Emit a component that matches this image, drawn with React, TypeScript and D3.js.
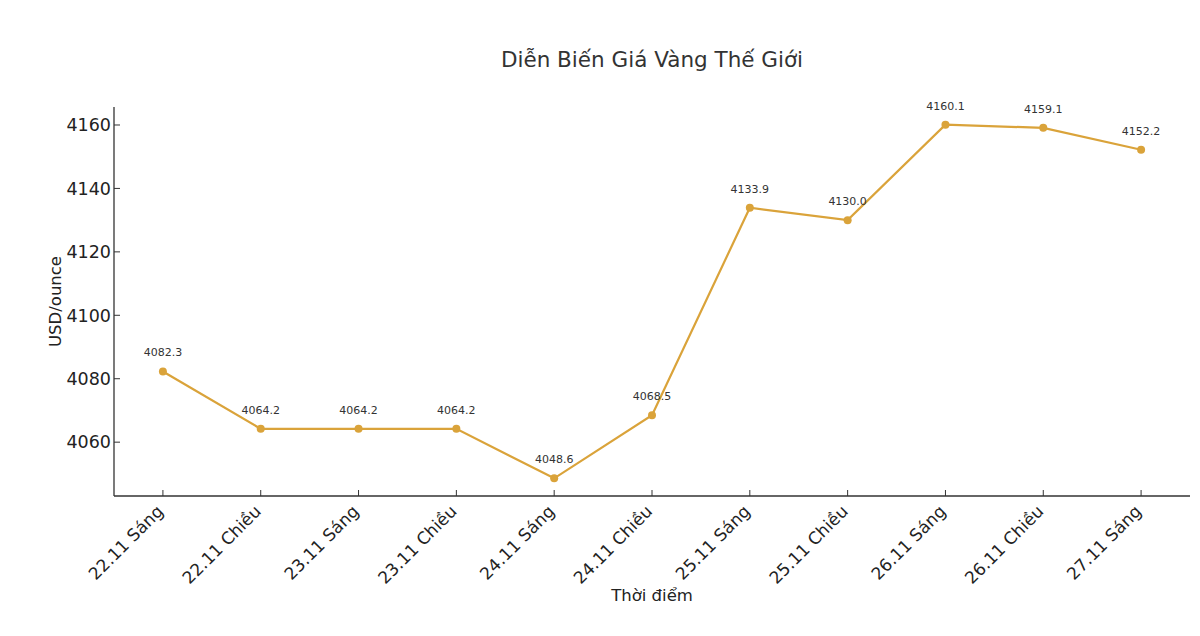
import React from 'react';
import * as d3 from 'd3';

const labels = [
  '22.11 Sáng', '22.11 Chiều', '23.11 Sáng', '23.11 Chiều', '24.11 Sáng', '24.11 Chiều',
  '25.11 Sáng', '25.11 Chiều', '26.11 Sáng', '26.11 Chiều', '27.11 Sáng',
];
const prices = [4082.3, 4064.2, 4064.2, 4064.2, 4048.6, 4068.5, 4133.9, 4130.0, 4160.1, 4159.1, 4152.2];
const yTicks = [4060, 4080, 4100, 4120, 4140, 4160];

const W = 1200;
const H = 636;
const m = { left: 114, right: 10, top: 107, bottom: 140 };
const color = '#DAA33A';
const font = 'DejaVu Sans, sans-serif';

export default function App() {
  const innerW = W - m.left - m.right;
  const innerH = H - m.top - m.bottom;

  const lo = d3.min(prices)!;
  const hi = d3.max(prices)!;
  const pad = (hi - lo) * 0.05;
  const y = d3.scaleLinear().domain([lo - pad, hi + pad]).range([innerH, 0]);
  const x = d3.scaleLinear().domain([-0.5, labels.length - 0.5]).range([0, innerW]);

  const line = d3.line<number>()
    .x((d, i) => x(i))
    .y((d) => y(d));

  return (
    <svg width={W} height={H} style={{ position: 'absolute', left: 0, top: 0, background: '#fff' }} fontFamily={font}>
      <text x={m.left + innerW / 2} y={67} textAnchor="middle" fontSize={21.5} fill="#333">
        Diễn Biến Giá Vàng Thế Giới
      </text>
      <g transform={`translate(${m.left},${m.top})`}>
        <path d={line(prices)!} fill="none" stroke={color} strokeWidth={2.2} />
        {prices.map((p, i) => (
          <g key={i}>
            <circle cx={x(i)} cy={y(p)} r={4} fill={color} />
            <text x={x(i)} y={y(p) - 15} textAnchor="middle" fontSize={11} fill="#333">
              {p.toFixed(1)}
            </text>
          </g>
        ))}
        {/* axes */}
        <line x1={0} x2={0} y1={0} y2={innerH} stroke="#333" strokeWidth={1.3} />
        <line x1={0} x2={innerW} y1={innerH} y2={innerH} stroke="#333" strokeWidth={1.3} />
        {yTicks.map((t) => (
          <g key={t} transform={`translate(0,${y(t)})`}>
            <line x1={0} x2={6} stroke="#333" />
            <text x={-3} dy="0.36em" textAnchor="end" fontSize={17.5} fill="#222">{t}</text>
          </g>
        ))}
        {labels.map((l, i) => (
          <g key={l} transform={`translate(${x(i)},${innerH})`}>
            <line y1={0} y2={-6} stroke="#333" />
            <text transform="translate(-7,8) rotate(-45)" textAnchor="end" dy="0.7em" fontSize={17} fill="#222">{l}</text>
          </g>
        ))}
        <text transform={`translate(-53,${innerH / 2}) rotate(-90)`} textAnchor="middle" fontSize={16.5} fill="#222">
          USD/ounce
        </text>
        <text x={innerW / 2} y={innerH + 105} textAnchor="middle" fontSize={16.5} fill="#222">
          Thời điểm
        </text>
      </g>
    </svg>
  );
}
